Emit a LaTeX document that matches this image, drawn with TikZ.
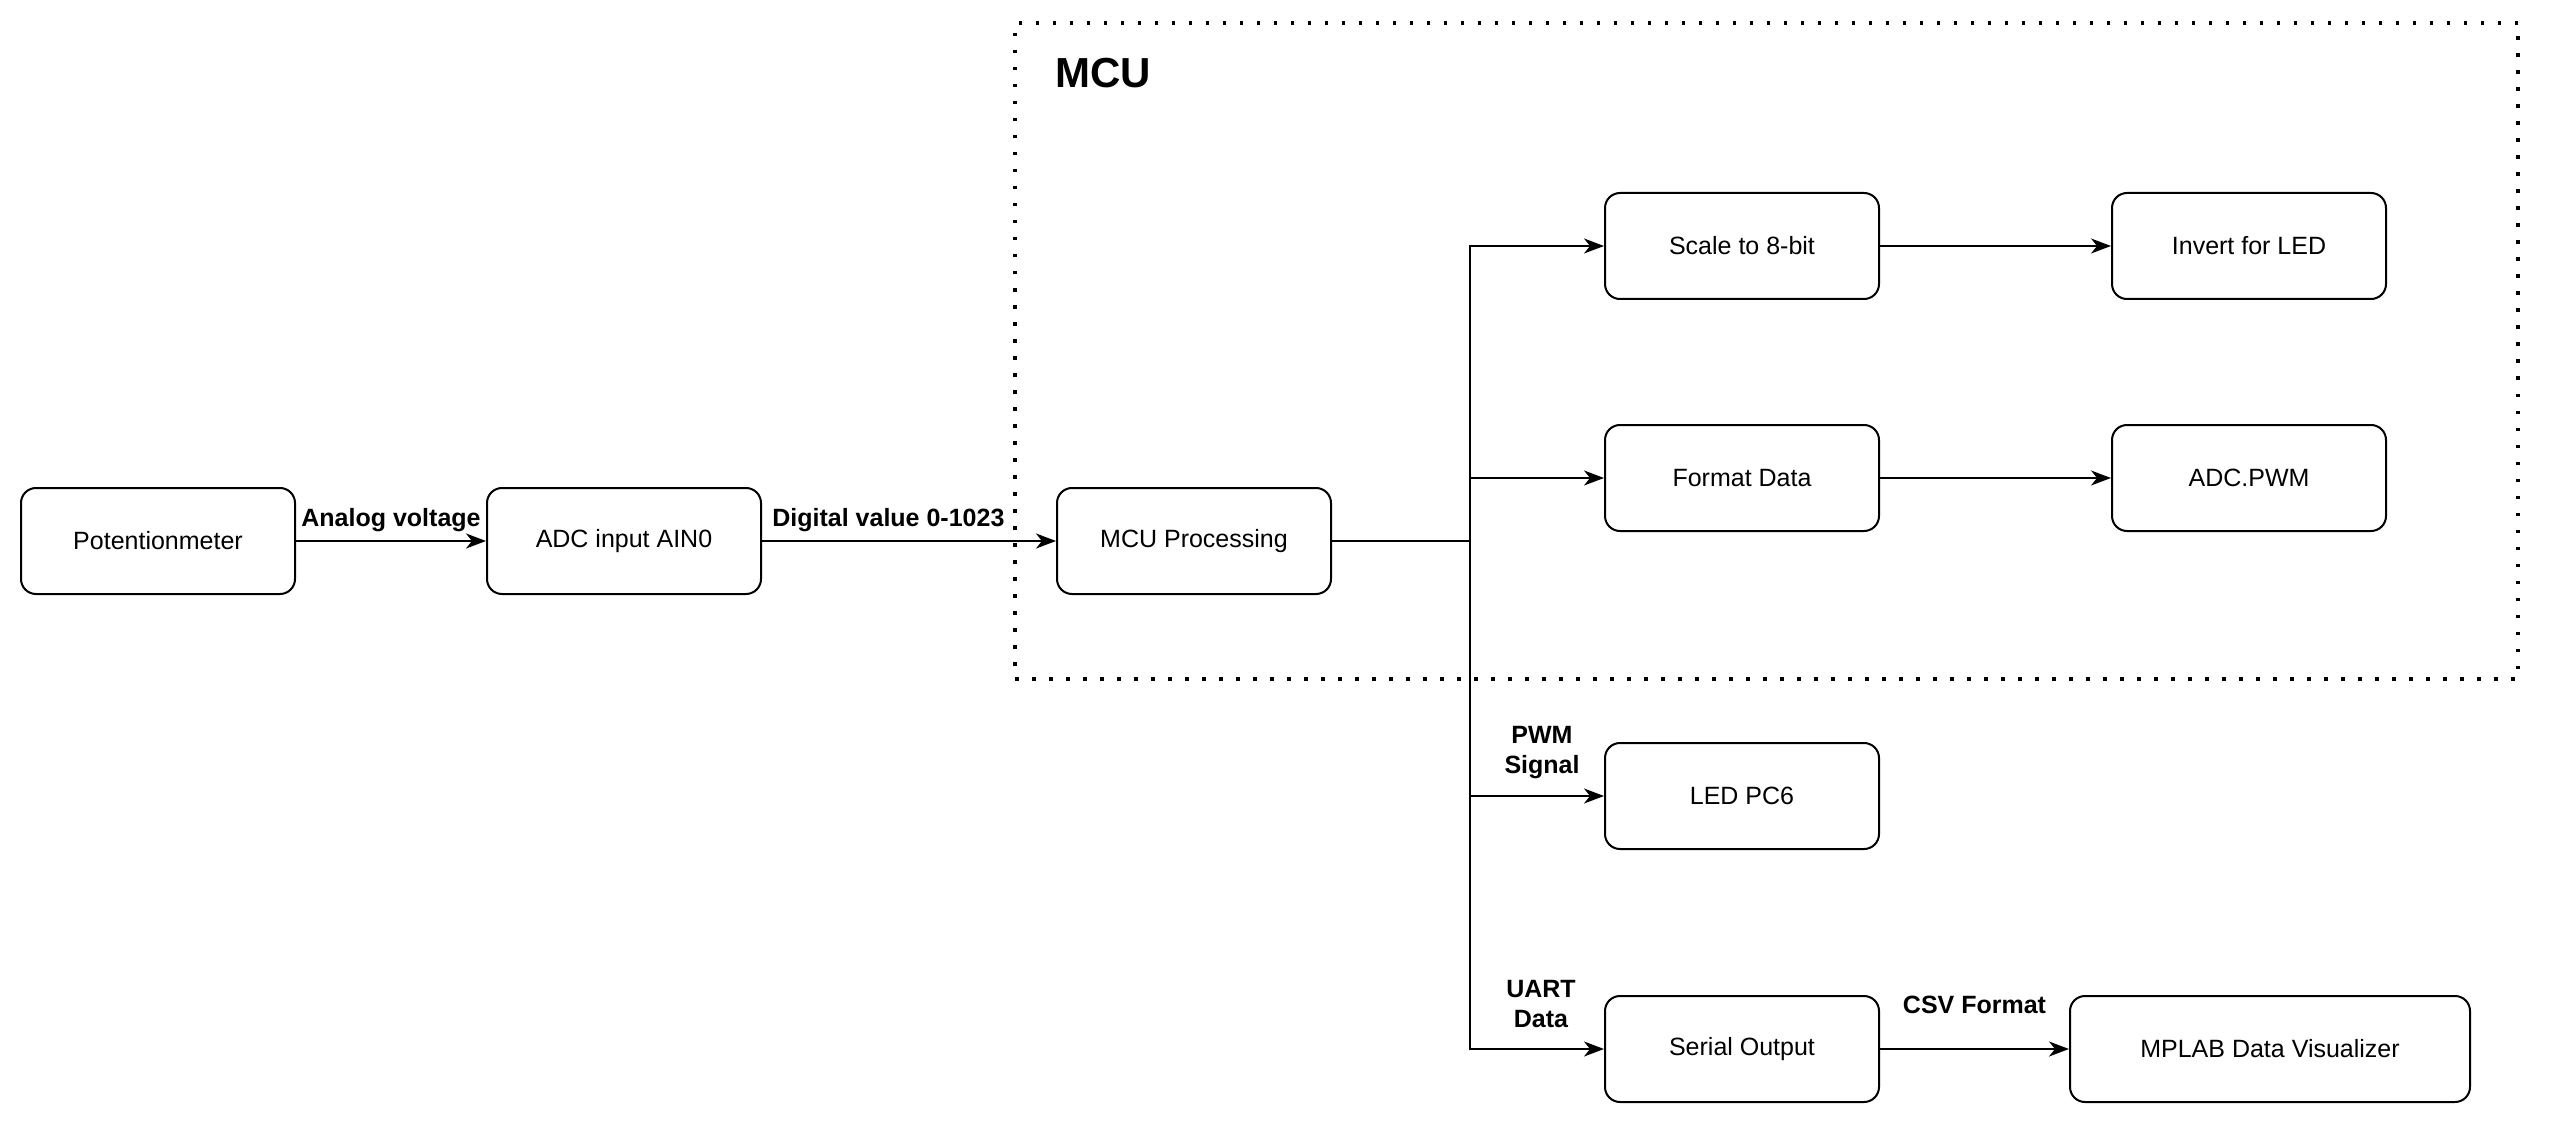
\documentclass[tikz,border=0pt]{standalone}
\usepackage{fontspec}
\setmainfont{Liberation Sans}
\usetikzlibrary{arrows.meta}
\begin{document}
\begin{tikzpicture}[x=1pt,y=-1pt,
 box/.style={draw, line width=2pt, rounded corners=15pt, minimum width=274pt, minimum height=106pt, inner sep=0pt, font=\fontsize{25}{30}\selectfont},
 arr/.style={line width=2pt, -{Stealth[length=20pt,width=15pt,inset=6pt]}},
 ln/.style={line width=2pt},
 lbl/.style={font=\bfseries\fontsize{25}{30}\selectfont, align=center, inner sep=0pt},
 frame/.style={draw, line width=3.5pt, dash pattern=on 3.5pt off 13.5pt, minimum width=1503pt, minimum height=656pt, inner sep=0pt},
]
\useasboundingbox (0,0) rectangle (2560,1123);

\node[frame] (mcuframe) at (1766.5,351) {};
\node[anchor=base west, font=\bfseries\fontsize{42}{50}\selectfont, inner sep=0pt] (mcutitle) at (1055,88) {MCU};

\node[box] (pot) at (158,541) {Potentionmeter};
\node[box] (adc) at (624,541) {ADC input AIN0};
\node[box] (mcu) at (1194,541) {MCU Processing};
\node[box] (scale) at (1742,246) {Scale to 8-bit};
\node[box] (format) at (1742,478) {Format Data};
\node[box] (invert) at (2249,246) {Invert for LED};
\node[box] (adcpwm) at (2249,478) {ADC.PWM};
\node[box] (led) at (1742,796) {LED PC6};
\node[box] (serial) at (1742,1049) {Serial Output};
\node[box, minimum width=400pt] (mplab) at (2270,1049) {MPLAB Data Visualizer};

\coordinate (j) at (1470,541);

\draw[arr] (pot) -- (adc) node[lbl, midway, yshift=21pt] (l1) {Analog voltage};
\draw[arr] (adc) -- (mcu) node[lbl, pos=0.43, yshift=21pt] (l2) {Digital value 0-1023};
\draw[ln] (mcu) -- (j);
\draw[arr] (j) |- (scale);
\draw[arr] (j) |- (format);
\draw[arr] (j) |- (led) node[lbl, pos=0.75, xshift=5pt, yshift=43pt] (l3) {PWM\\Signal};
\draw[arr] (j) |- (serial) node[lbl, pos=0.75, xshift=4pt, yshift=45pt] (l4) {UART\\Data};
\draw[arr] (scale) -- (invert);
\draw[arr] (format) -- (adcpwm);
\draw[arr] (serial) -- (mplab) node[lbl, midway, yshift=44pt] (l5) {CSV Format};
\end{tikzpicture}
\end{document}
